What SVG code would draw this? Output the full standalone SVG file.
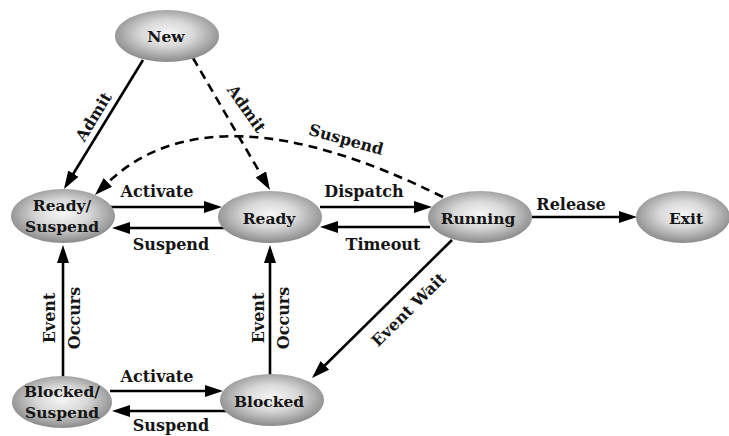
<svg xmlns="http://www.w3.org/2000/svg" width="729" height="436" viewBox="0 0 729 436">
  <defs>
    <radialGradient id="nodeFill" cx="50%" cy="45%" r="55%">
      <stop offset="0" stop-color="#f6f6f6"/>
      <stop offset="0.45" stop-color="#d9d9d9"/>
      <stop offset="1" stop-color="#8a8a8a"/>
    </radialGradient>
    <marker id="arrow" markerUnits="userSpaceOnUse" markerWidth="18" markerHeight="12" refX="3" refY="6" orient="auto">
      <path d="M0,0 L18,6 L0,12 z" fill="#000" stroke="none"/>
    </marker>
    <style>
      .node ellipse { fill: url(#nodeFill); stroke: none; }
      .node text { font-family: "DejaVu Serif", "Liberation Serif", serif; font-weight: bold; font-size: 15.5px; fill: #151515; text-anchor: middle; }
      .edge { fill: none; stroke: #000; stroke-width: 2.6; marker-end: url(#arrow); }
      .dash { stroke-dasharray: 9 6; }
      .lbl { font-family: "DejaVu Serif", "Liberation Serif", serif; font-weight: bold; font-size: 16px; fill: #151515; text-anchor: middle; }
    </style>
  </defs>

  <!-- transitions -->
  <g id="connectors">
    <line class="edge" x1="143" y1="60" x2="71.8" y2="176.2"/>
    <line class="edge dash" x1="193" y1="58" x2="262.4" y2="177"/>
    <path class="edge dash" d="M443,197 Q211,82 105.7,184.5"/>
    <line class="edge" x1="110" y1="207" x2="207" y2="207"/>
    <line class="edge" x1="230" y1="228" x2="127" y2="228"/>
    <line class="edge" x1="320" y1="207" x2="417" y2="207"/>
    <line class="edge" x1="430" y1="227" x2="335" y2="227"/>
    <line class="edge" x1="532" y1="217" x2="622" y2="217"/>
    <line class="edge" x1="452" y1="240" x2="322.7" y2="367.5"/>
    <line class="edge" x1="63" y1="377" x2="63" y2="260"/>
    <line class="edge" x1="270" y1="375" x2="270" y2="260"/>
    <line class="edge" x1="110" y1="391" x2="208" y2="391"/>
    <line class="edge" x1="228" y1="411" x2="127" y2="411"/>

    <text class="lbl" transform="translate(94,117) rotate(-58.5)" dy="5">Admit</text>
    <text class="lbl" transform="translate(246,109) rotate(55)" dy="5">Admit</text>
    <text class="lbl" transform="translate(346,140) rotate(15.5)" dy="5">Suspend</text>
    <text class="lbl" x="157" y="197">Activate</text>
    <text class="lbl" x="171" y="250">Suspend</text>
    <text class="lbl" x="364" y="197">Dispatch</text>
    <text class="lbl" x="383" y="250">Timeout</text>
    <text class="lbl" x="571" y="210">Release</text>
    <text class="lbl" transform="translate(409,310) rotate(-44.6)" dy="5">Event Wait</text>
    <text class="lbl" transform="translate(55,318) rotate(-90)">Event</text>
    <text class="lbl" transform="translate(80,318) rotate(-90)">Occurs</text>
    <text class="lbl" transform="translate(264,318) rotate(-90)">Event</text>
    <text class="lbl" transform="translate(289,318) rotate(-90)">Occurs</text>
    <text class="lbl" x="157" y="382">Activate</text>
    <text class="lbl" x="171" y="431">Suspend</text>
  </g>

  <!-- states -->
  <g id="new" class="node">
    <ellipse cx="167" cy="36" rx="52" ry="26"/>
    <text x="166" y="42">New</text>
  </g>
  <g id="ready-suspend" class="node">
    <ellipse cx="63" cy="216" rx="52" ry="27"/>
    <text x="62" y="211">Ready/</text>
    <text x="62" y="232">Suspend</text>
  </g>
  <g id="ready" class="node">
    <ellipse cx="270" cy="217" rx="52" ry="26"/>
    <text x="269" y="224">Ready</text>
  </g>
  <g id="running" class="node">
    <ellipse cx="480" cy="217" rx="52" ry="26"/>
    <text x="478" y="224">Running</text>
  </g>
  <g id="exit" class="node">
    <ellipse cx="683" cy="217" rx="47" ry="26"/>
    <text x="686" y="224">Exit</text>
  </g>
  <g id="blocked-suspend" class="node">
    <ellipse cx="62" cy="402" rx="50" ry="26"/>
    <text x="62" y="397">Blocked/</text>
    <text x="62" y="418">Suspend</text>
  </g>
  <g id="blocked" class="node">
    <ellipse cx="272" cy="400" rx="52" ry="26"/>
    <text x="269" y="407">Blocked</text>
  </g>
</svg>
